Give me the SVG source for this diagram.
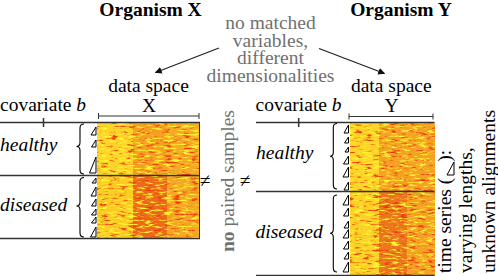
<svg xmlns="http://www.w3.org/2000/svg" width="498" height="276" viewBox="0 0 498 276">
<style>
text{font-family:"Liberation Serif","Times New Roman",serif;font-size:19.5px;fill:#000}
.b{font-weight:bold}
.i{font-style:italic}
.g{fill:#707070}
.ln{stroke:#333;stroke-width:1.5;fill:none}
.thin{stroke:#333;stroke-width:1;fill:none}
.br{stroke:#000;stroke-width:1.1;fill:none}
.tri{stroke:#000;stroke-width:1;fill:#fff;stroke-linejoin:miter}
.arr{stroke:#222;stroke-width:1.3;fill:none}
</style>
<defs>
<marker id="ah" viewBox="0 0 10 10" refX="9" refY="5" markerWidth="7" markerHeight="7" orient="auto" markerUnits="userSpaceOnUse">
<path d="M0,0 L10,5 L0,10 z" fill="#111"/>
</marker>
<filter id="noise" x="0" y="0" width="100%" height="100%" color-interpolation-filters="sRGB">
<feTurbulence type="fractalNoise" baseFrequency="0.11 0.5" numOctaves="3" seed="7" result="n"/>
<feColorMatrix in="n" type="matrix" values="0 0 0 0 1  0 0 0 0 0.96  0 0 0 0 0.2  4.6 0 0 0 -2.35" result="hi"/>
<feColorMatrix in="n" type="matrix" values="0 0 0 0 0.93  0 0 0 0 0.22  0 0 0 0 0.04  0 -4.6 0 0 2.1" result="lo"/>
<feMerge result="m"><feMergeNode in="SourceGraphic"/><feMergeNode in="lo"/><feMergeNode in="hi"/></feMerge>
<feComposite in="m" in2="SourceAlpha" operator="in"/>
</filter>
</defs>

<g id="titleX"><text class="b" x="150.5" y="15.5" text-anchor="middle">Organism X</text></g>
<g id="titleY"><text class="b" x="401" y="15.5" text-anchor="middle">Organism Y</text></g>

<g id="note">
<text class="g" text-anchor="middle" x="270.5" y="29">no matched</text>
<text class="g" text-anchor="middle" x="270.5" y="46.5">variables,</text>
<text class="g" text-anchor="middle" x="270.5" y="64">different</text>
<text class="g" text-anchor="middle" x="270.5" y="81.5">dimensionalities</text>
</g>

<g id="connectors">
<line class="arr" x1="219" y1="48" x2="155.5" y2="72.5" marker-end="url(#ah)"/>
<line class="arr" x1="319" y1="48.5" x2="384.5" y2="73.5" marker-end="url(#ah)"/>
</g>

<g id="spaceX">
<text x="148.5" y="91.5" text-anchor="middle">data space</text>
<text x="149" y="111.5" text-anchor="middle">X</text>
<path class="thin" d="M98.5,116 H199 M98.5,113 V119 M199,113 V119"/>
</g>
<g id="spaceY">
<text x="391.3" y="92" text-anchor="middle">data space</text>
<text x="391.5" y="112" text-anchor="middle">Y</text>
<path class="thin" d="M349,116.5 H433 M349,113.5 V119.5 M433,113.5 V119.5"/>
</g>

<g id="heatmapX" filter="url(#noise)">
<rect x="97" y="123" width="103" height="116" fill="#f6ac26"/>
<rect x="97" y="123" width="36" height="53" fill="#ffd428"/>
<rect x="133" y="123" width="34" height="53" fill="#f5a020"/>
<rect x="167" y="123" width="33" height="53" fill="#f6aa24"/>
<rect x="97" y="176" width="36" height="63" fill="#fbcc22"/>
<rect x="133" y="176" width="34" height="63" fill="#ec6a1a"/>
<rect x="167" y="176" width="33" height="63" fill="#f5a624"/>
</g>
<g id="heatmapY" filter="url(#noise)">
<rect x="350" y="123" width="85" height="153" fill="#f5a426"/>
<rect x="350" y="123" width="29" height="69" fill="#ffd428"/>
<rect x="379" y="123" width="56" height="69" fill="#f5a224"/>
<rect x="350" y="192" width="29" height="84" fill="#fcd026"/>
<rect x="379" y="192" width="28" height="84" fill="#ec741c"/>
<rect x="407" y="192" width="28" height="84" fill="#f4a024"/>
</g>
<line x1="199.5" y1="122.5" x2="199.5" y2="238.5" stroke="#333" stroke-width="1"/>

<g id="covariateX">
<text x="0" y="111">covariate <tspan class="i">b</tspan></text>
<path class="ln" d="M0,122.5 H200 M43.5,118 V127"/>
</g>
<g id="covariateY">
<text x="255.5" y="111">covariate <tspan class="i">b</tspan></text>
<path class="ln" d="M256,122.5 H434.5 M298.7,118 V127"/>
</g>

<g id="healthyX">
<text class="i" x="0" y="150.5">healthy</text>
<path class="br" d="M84,124 Q80,124 80,128 L80,142.5 Q80,146.5 76.5,146.5 Q80,146.5 80,150.5 L80,170 Q80,174 84,174"/>
<polygon class="tri" points="96,127 91,135 96,135"/>
<polygon class="tri" points="96,140 91.5,147 96,147"/>
<polygon class="tri" points="96,157 89.5,173 96,173"/>
</g>
<g id="diseasedX">
<text class="i" x="0" y="211">diseased</text>
<path class="br" d="M84,177.5 Q80,177.5 80,181.5 L80,202 Q80,206 76.5,206 Q80,206 80,210 L80,233 Q80,237 84,237"/>
<polygon class="tri" points="96,178 92,183 96,183"/>
<polygon class="tri" points="96,187 91,196 96,196"/>
<polygon class="tri" points="96,199 91.5,206 96,206"/>
<polygon class="tri" points="96,209 91.5,215 96,215"/>
<polygon class="tri" points="96,217 91.5,223 96,223"/>
<polygon class="tri" points="96,227 90.5,237 96,237"/>
</g>
<path class="ln" d="M0,175.5 H200 M0,238.5 H200"/>

<g id="healthyY">
<text class="i" x="256" y="159">healthy</text>
<path class="br" d="M337,123.5 Q333.3,123.5 333.3,127.5 L333.3,152.3 Q333.3,156.3 330,156.3 Q333.3,156.3 333.3,160.3 L333.3,185 Q333.3,189 337,189"/>
<polygon class="tri" points="348.5,125 344,133 348.5,133"/>
<polygon class="tri" points="348.5,137 344.5,143 348.5,143"/>
<polygon class="tri" points="348.5,147 345,152 348.5,152"/>
<polygon class="tri" points="348.5,156 343.5,164 348.5,164"/>
<polygon class="tri" points="348.5,167 343,177 348.5,177"/>
<polygon class="tri" points="348.5,182 344,190 348.5,190"/>
</g>
<g id="diseasedY">
<text class="i" x="255.5" y="238">diseased</text>
<path class="br" d="M337,195 Q333.3,195 333.3,199 L333.3,229.3 Q333.3,233.3 330,233.3 Q333.3,233.3 333.3,237.3 L333.3,268 Q333.3,272 337,272"/>
<polygon class="tri" points="348.5,195 343,205 348.5,205"/>
<polygon class="tri" points="348.5,208 343.5,216 348.5,216"/>
<polygon class="tri" points="348.5,221 344,228 348.5,228"/>
<polygon class="tri" points="348.5,229.5 343,238 348.5,238"/>
<polygon class="tri" points="348.5,241 343.5,249 348.5,249"/>
<polygon class="tri" points="348.5,252 344,259 348.5,259"/>
<polygon class="tri" points="348.5,262 343,272 348.5,272"/>
</g>
<path class="ln" d="M256,191.5 H434.5 M256,275.5 H434.5"/>

<g id="noPaired">
<text x="205" y="186.5" text-anchor="middle">≠</text>
<text x="245" y="186.5" text-anchor="middle">≠</text>
<text class="g" transform="translate(233.5,252) rotate(-90)"><tspan class="b">no</tspan> paired samples</text>
</g>

<g id="timeSeries">
<text transform="translate(451,273) rotate(-90)">time series (<tspan dx="16">):</tspan></text>
<polygon class="tri" points="454,162 447,175 454,175" style="fill:none"/>
<text transform="translate(472,273) rotate(-90)">varying lengths,</text>
<text transform="translate(494.5,273) rotate(-90)">unknown alignments</text>
</g>
</svg>
